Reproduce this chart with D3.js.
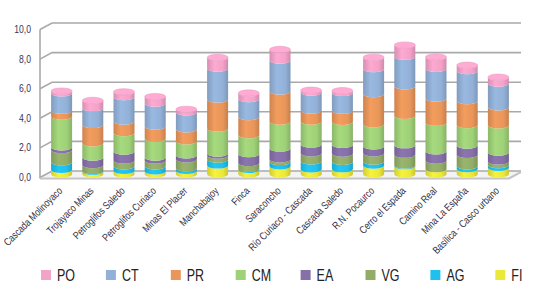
<!DOCTYPE html>
<html><head><meta charset="utf-8">
<script src="https://cdn.jsdelivr.net/npm/d3@7"></script>
<style>body{margin:0;background:#fff}svg{display:block}</style>
</head><body>
<svg id="c" width="537" height="292"></svg>
<script>
const categories = ["Cascada Molinoyaco","Trojayaco Minas","Petroglifos Saledo","Petroglifos Curiaco","Minas El Placer","Manchabajoy","Finca","Saraconcho","Río Curiaco - Cascada","Cascada Saledo","R.N. Pocaurco","Cerro el Espada","Camino Real","Mina La España","Basílica - Casco urbano"];
const seriesNames = ["FI","AG","VG","EA","CM","PR","CT","PO"];
const FI = [0.30,0.18,0.24,0.20,0.24,0.60,0.30,0.54,0.34,0.35,0.59,0.55,0.36,0.36,0.44];
const AG = [0.52,0.05,0.30,0.34,0.17,0.40,0.07,0.30,0.54,0.50,0.27,0.05,0.00,0.18,0.19];
const VG = [0.83,0.40,0.40,0.40,0.60,0.27,0.40,0.17,0.54,0.55,0.56,0.73,0.57,0.78,0.24];
const EA = [0.18,0.50,0.60,0.20,0.27,0.14,0.60,0.74,0.60,0.60,0.47,0.64,0.63,0.62,0.60];
const CM = [2.07,0.97,1.25,1.28,0.95,1.69,1.28,1.82,1.55,1.55,1.50,1.98,1.93,1.39,1.84];
const PR = [0.40,1.24,0.78,0.81,0.81,1.96,1.22,2.03,0.74,0.75,2.03,2.00,1.64,1.62,1.22];
const CT = [1.17,1.13,1.65,1.55,1.15,2.09,1.22,2.09,1.22,1.20,1.69,2.00,2.00,2.03,1.60];
const PO = [0.15,0.52,0.35,0.47,0.20,0.74,0.40,0.74,0.15,0.15,0.79,0.78,0.79,0.39,0.43];
const seriesValues = [FI,AG,VG,EA,CM,PR,CT,PO];
const tickValues = [0,2,4,6,8,10];
const tickLabels = ["0,0","2,0","4,0","6,0","8,0","10,0"];
const legendOrder = ["PO","CT","PR","CM","EA","VG","AG","FI"];
const colors = {PO:"#f3a2c8",CT:"#93b1d8",PR:"#e9965a",CM:"#9fd178",EA:"#8670a8",VG:"#93ad68",AG:"#1fc0ee",FI:"#ece83a"};

const svg = d3.select("#c");
const defs = svg.append("defs");
const font = "'Liberation Sans',Arial,sans-serif";

const y = d3.scaleLinear().domain([0,10]).range([177.5,29.5]);
const x = d3.scaleBand().domain(categories).range([46,514]);
const dx = 12, dy = -6.5;
const x0 = 40, x1 = 509;

seriesNames.forEach(s=>{
  const c = d3.color(colors[s]);
  const g = defs.append("linearGradient").attr("id","g"+s).attr("x1","0").attr("x2","1").attr("y1","0").attr("y2","0");
  g.append("stop").attr("offset","0").attr("stop-color",c.darker(0.35));
  g.append("stop").attr("offset","0.35").attr("stop-color",c.brighter(0.12));
  g.append("stop").attr("offset","0.75").attr("stop-color",c);
  g.append("stop").attr("offset","1").attr("stop-color",c.darker(0.45));
});

svg.append("path")
  .attr("d",`M${x0},${y(0)} L${x1},${y(0)} L${x1+dx},${y(0)+dy} L${x0+dx},${y(0)+dy} Z`)
  .attr("fill","#f3f3f3");
const grid = svg.append("g");
tickValues.forEach(v=>{
  grid.append("path")
    .attr("d",`M${x0},${y(v)} L${x0+dx},${y(v)+dy} L${x1+dx},${y(v)+dy}`)
    .attr("fill","none").attr("stroke","#a9a9a9").attr("stroke-width",1.6);
});
svg.append("line").attr("x1",x0).attr("x2",x0).attr("y1",y(10)).attr("y2",y(0)+1)
  .attr("stroke","#a9a9a9").attr("stroke-width",1.6);
svg.append("path")
  .attr("d",`M${x0},${y(0)+1} L${x1},${y(0)+1} L${x1+dx},${y(0)+1+dy}`)
  .attr("fill","none").attr("stroke","#c4c4c4").attr("stroke-width",2);

svg.append("g").selectAll("text").data(tickValues).join("text")
  .attr("transform",v=>`translate(31,${y(v)+3.5}) scale(0.82,1)`).attr("text-anchor","end")
  .attr("font-family",font).attr("font-size",10.5).attr("fill","#34345a")
  .text((v,i)=>tickLabels[i]);

const rx = 10.5, ry = 3.2;
const bars = svg.append("g");
categories.forEach((cat,i)=>{
  const cx = x(cat) + x.bandwidth()/2;
  let cum = 0;
  seriesNames.forEach((s,k)=>{
    const v = seriesValues[k][i];
    if(v<=0) return;
    const yb = y(cum) - ry, yt = y(cum+v) - ry;
    bars.append("path")
      .attr("d",`M${cx-rx},${yt} L${cx-rx},${yb} A${rx},${ry} 0 0 0 ${cx+rx},${yb} L${cx+rx},${yt} A${rx},${ry} 0 0 1 ${cx-rx},${yt} Z`)
      .attr("fill",`url(#g${s})`);
    cum += v;
  });
  const top = seriesNames[seriesNames.length-1];
  bars.append("ellipse").attr("cx",cx).attr("cy",y(cum)-ry).attr("rx",rx).attr("ry",ry)
    .attr("fill",d3.color(colors[top]).brighter(0.15)).attr("stroke",d3.color(colors[top]).darker(0.2)).attr("stroke-width",0.5);
  svg.append("text")
    .attr("transform",`translate(${cx+1.5},${191.5}) rotate(-45) scale(0.8,1)`)
    .attr("text-anchor","end")
    .attr("font-family",font).attr("font-size",10.5).attr("fill","#2e2e44")
    .text(cat);
});

const lg = svg.append("g");
legendOrder.forEach((s,i)=>{
  const lx = 41 + i*64.9;
  lg.append("rect").attr("x",lx).attr("y",270).attr("width",10).attr("height",10).attr("fill",colors[s]);
  lg.append("text").attr("transform",`translate(${lx+16},280.5) scale(0.78,1)`).attr("font-family",font).attr("font-size",16)
    .attr("fill","#222").text(s);
});
</script>
</body></html>
